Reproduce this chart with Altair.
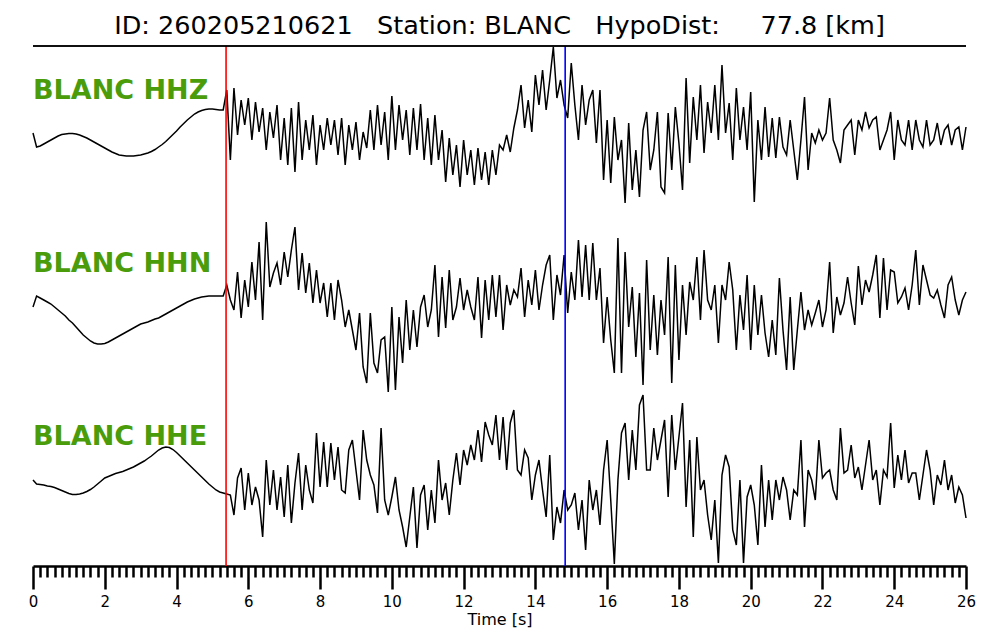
import altair as alt
import pandas as pd

TITLE = "ID: 260205210621   Station: BLANC   HypoDist:     77.8 [km]"
STATION = "BLANC"
CHANNELS = ["HHZ", "HHN", "HHE"]
SAMPLE_INTERVAL = 0.1   # s (values every 0.1 s)
X_MAX = 26
PICK_PHASES = ["P", "S"]
PICK_TIMES = [5.38, 14.83]
MINOR_STEP = 0.2

# amplitudes (arbitrary units, up positive), one row per second
HHZ = [
    2, -12, -11, -9, -7, -5, -3, -1, 0.5, 1,
    1.5, 1.5, 1, 0, -1.5, -3, -5, -7, -9, -11,
    -13, -15, -17, -18.5, -20, -20.5, -21, -21, -21, -20.5,
    -20, -19, -18, -16.5, -14.5, -12, -9.5, -6.5, -3, 0.5,
    4, 8, 11.5, 15, 18, 21, 23, 24.5, 25.5, 26,
    26, 25.5, 25, 25, 45, -25, 47, 0, 35, 10,
    37, -5, 33, 3, 27, -15, 23, -3, 30, -25,
    17, -30, 27, -37, 33, -25, 15, -15, 20, -30,
    10, -15, 17, -10, 15, -20, 17, -30, 10, -15,
    13, -25, 3, -13, 25, -15, 30, -10, 23, -25,
    39, -15, 30, -5, 25, -20, 27, -15, 31, -25,
    17, -30, 20, -25, 5, -47, -3, -40, -10, -52,
    -5, -40, -15, -50, -13, -45, -17, -50, -15, -40,
    -10, -15, 0, -17, 7, 25, 50, 7, 35, 3,
    60, 30, 65, 25, 55, 88, 37, 55, 30, 17,
    72, 30, -5, 50, 10, 35, 45, -8, 45, -45,
    15, -48, 18, -25, -5, -68, 12, -55, -15, -62,
    5, 23, -35, -15, 23, -52, -58, 22, -35, 28,
    -8, -55, 57, -28, 38, -5, 50, -18, 33, 2,
    50, -5, 70, 2, 32, -25, 47, -5, 28, -15,
    43, -67, 15, -25, 28, -22, 17, -23, 18, -12,
    -20, 15, -15, -45, -5, 38, -35, 2, -8, 5,
    -5, 2, 37, -5, -15, -28, 5, 10, 15, -20,
    15, 5, 23, 7, 15, 18, -15, -5, 5, 23,
    -25, 15, -5, -10, 15, -15, 15, -5, -12, 15,
    -10, -5, 12, -10, 5, 10, -10, 5, 8, -15,
    8,
]

HHN = [
    1, 12, 10, 8, 6, 4, 1, -2, -5, -8,
    -12, -15, -19, -23, -27, -30, -33, -35, -36, -36,
    -35.5, -34, -32, -30, -28, -26, -24, -22, -20, -18,
    -16, -15, -14, -12.5, -11, -10, -8, -6, -4, -2,
    0, 2, 4, 6, 7.5, 9, 10, 11, 11.5, 12,
    12, 12, 12, 12, 23, 8, -2, 36, -10, 28,
    1, 46, 8, 66, -12, 86, 21, 35, 45, 23,
    56, 31, 58, 81, 18, 55, 15, 45, 5, 38,
    5, 25, -9, 25, -12, 28, 8, -19, -2, -22,
    -42, -5, -59, -75, -5, -55, -65, -32, -29, -84,
    1, -82, -9, -55, 8, -42, -2, -39, 1, 13,
    -19, -2, 43, -29, 31, -20, 38, -12, 1, 30,
    -2, 18, 1, -12, 31, -30, 28, -12, 33, -9,
    33, -22, 23, 3, 18, 11, 40, -9, 28, 3,
    38, -2, 23, 43, 53, -12, 33, 13, 53, -5,
    36, 8, 68, 11, 63, 8, 65, 8, 40, -35,
    11, -32, -65, 70, -65, 56, -19, 21, -49, 15,
    -77, 48, -42, 13, -47, 8, -27, 51, -75, 43,
    -52, 23, -27, 26, 8, 51, -12, 58, 8, -2,
    23, -35, 23, 8, 46, 18, -42, 13, -22, 33,
    -42, 23, -27, 13, -25, -49, -12, -47, 30, -22,
    -62, 11, -62, -22, 16, -22, -2, -17, -5, 8,
    -19, -2, 46, -25, 11, -7, 5, 31, 5, -17,
    42, 3, 28, 16, 33, 53, -10, 50, -2, 38,
    36, 5, 11, 20, -2, 23, 58, 3, 43, 28,
    13, 10, 18, 3, -10, 23, 31, 8, -7, 8,
    16,
]

HHE = [
    1, -3, -3.5, -4, -5, -5.5, -6.5, -8, -9.5, -11,
    -12.5, -13.5, -13.5, -13, -12, -10.5, -8.5, -6, -3, 0,
    3, 4.5, 6, 7.5, 8.5, 9.5, 11, 12.5, 14, 16,
    18, 20, 22.5, 25, 28, 31, 33, 34, 33.5, 31.5,
    28.5, 25, 21.5, 18, 14.5, 11, 7.5, 4, 0.5, -3,
    -6, -9, -11, -12, -13, -14, -34, 3, 13, -29,
    8, -24, -6, -19, -56, 21, -24, 11, -29, 4,
    -36, 16, -42, -2, 28, -29, 16, -9, -22, 48,
    -6, 39, -6, 38, 1, 34, -9, -12, 31, 41,
    11, -19, 51, 21, 6, -4, -32, 53, -19, -34,
    -16, 4, -29, -46, -66, -36, -6, -67, -14, -4,
    -49, -9, -42, 21, -19, -2, -34, 1, 28, -4,
    31, 16, 36, 21, 51, 19, 59, 46, 36, 66,
    21, 64, 11, 58, 71, 11, 6, 31, 23, -19,
    6, 21, -9, -36, 26, -59, -26, -42, -9, -29,
    -24, -12, -49, -19, -69, 1, -29, -9, -44, 11,
    41, -19, -83, 1, 48, 58, 1, 51, 11, 76,
    86, 11, 11, 53, 21, 41, 61, -16, 66, 11,
    44, 78, -26, 41, -56, 44, -9, 1, -34, -59,
    -19, -82, 6, 26, 14, -49, -64, 1, -82, -16,
    -4, -24, -64, 16, -46, 1, -39, 1, -19, 4,
    -9, -39, -9, -14, 41, -46, 11, 1, -19, 41,
    3, 8, 11, -9, -19, 53, 8, 11, 36, 3,
    14, -9, 16, 41, 1, 11, -24, 11, 4, 58,
    -7, 26, 1, 31, -2, 8, 8, -19, 6, 31,
    11, -24, 6, -4, 21, -9, 6, -22, -6, -14,
    -37,
]

# ---- layout / style (not data) ----
W, H = 933, 520
OFFSETS = {"HHZ": 431, "HHN": 258, "HHE": 85}
LABEL_DY = 44
GREEN = "#4a9c0b"
FONT = "DejaVu Sans"

rows = []
for ch, arr in zip(CHANNELS, [HHZ, HHN, HHE]):
    for i, a in enumerate(arr):
        rows.append({"t": round(i * SAMPLE_INTERVAL, 2), "y": OFFSETS[ch] + a, "trace": ch})
traces = pd.DataFrame(rows)

labels = pd.DataFrame({
    "t": [0] * len(CHANNELS),
    "y": [OFFSETS[c] + LABEL_DY for c in CHANNELS],
    "label": [f"{STATION} {c}" for c in CHANNELS],
})
picks = pd.DataFrame({"t": PICK_TIMES, "phase": PICK_PHASES})

tick_values = [round(i * MINOR_STEP, 1) for i in range(int(round(X_MAX / MINOR_STEP)) + 1)]
is_major = "abs(datum.value / 2 - round(datum.value / 2)) < 0.01"

xscale = alt.Scale(domain=[0, X_MAX], nice=False, zero=False)
yscale = alt.Scale(domain=[0, H], nice=False, zero=False)
xaxis = alt.Axis(
    values=tick_values, title="Time [s]", grid=False,
    domainColor="black", domainWidth=2.5,
    tickColor="black", tickWidth=2.5,
    tickSize={"condition": {"test": is_major, "value": 23}, "value": 11},
    labelExpr=f"{is_major} ? format(datum.value, 'd') : ''",
    labelOverlap=False, labelFont=FONT, labelFontSize=15, labelColor="black",
    labelPadding=5, labelFlush=False,
    titleFont=FONT, titleFontSize=16, titleFontWeight="normal", titleColor="black",
    titlePadding=2,
)
X = alt.X("t:Q", scale=xscale, axis=xaxis)

lines = alt.Chart(traces).mark_line(color="black", strokeWidth=1.5).encode(
    x=X, y=alt.Y("y:Q", scale=yscale, axis=None), detail="trace:N"
)
pick_rules = alt.Chart(picks).mark_rule(strokeWidth=1.6).encode(
    x=X,
    color=alt.Color("phase:N", scale=alt.Scale(domain=PICK_PHASES, range=["#ff0000", "#0000ff"]), legend=None),
)
label_text = alt.Chart(labels).mark_text(
    align="left", baseline="middle", font=FONT, fontWeight="bold", fontSize=27, color=GREEN
).encode(x=X, y=alt.Y("y:Q", scale=yscale, axis=None), text="label:N")
spine = alt.Chart(picks).mark_rule(color="black", strokeWidth=1.5).encode(
    x=alt.value(0), x2=alt.value(W), y=alt.value(0)
)

chart = alt.layer(lines, pick_rules, label_text, spine).properties(
    width=W, height=H,
    padding={"left": 25, "top": 38, "right": 26, "bottom": 70},
    autosize=alt.AutoSizeParams(type="none"),
    title=alt.TitleParams(
        TITLE.replace(" ", "\u00a0"), anchor="middle", font=FONT, fontSize=25.5,
        fontWeight="normal", color="black", offset=5,
    ),
).configure_view(stroke=None)

chart.save("out.html", embed_options={"renderer": "svg", "actions": False})
